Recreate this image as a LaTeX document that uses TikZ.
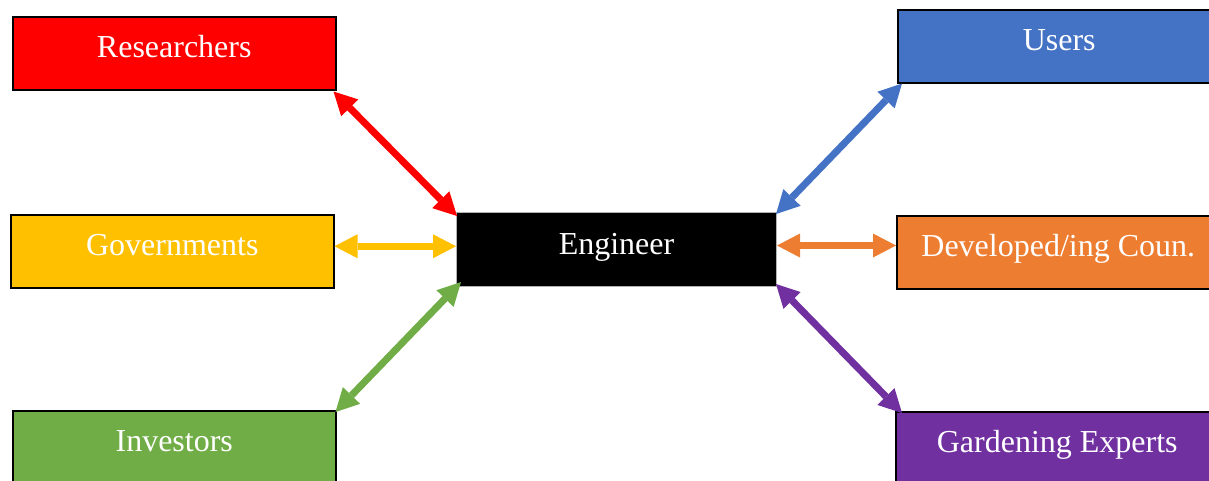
\documentclass[tikz,border=0pt]{standalone}
\usepackage{fontspec}
\setmainfont{Liberation Serif}
\usetikzlibrary{arrows.meta}
\definecolor{cRed}{HTML}{FF0000}
\definecolor{cGold}{HTML}{FFC000}
\definecolor{cGreen}{HTML}{70AD47}
\definecolor{cBlue}{HTML}{4472C4}
\definecolor{cOrange}{HTML}{ED7D31}
\definecolor{cPurple}{HTML}{7030A0}
\begin{document}
\begin{tikzpicture}[x=1pt,y=-1pt,
  party/.style={draw=black, line width=1.5pt, anchor=north west,
    minimum width=323pt, minimum height=73pt, inner sep=0pt,
    text=white, font=\fontsize{32}{38}\selectfont,
    text height=22pt, text depth=13pt},
  link/.style={line width=7pt, {Triangle[length=23pt,width=24pt,line width=0pt]}-{Triangle[length=23pt,width=24pt,line width=0pt]}}]
\useasboundingbox (0,0) rectangle (1209,480);
\clip (0,0) rectangle (1209,480);

% stakeholder boxes
\node[party, fill=cRed]    (res) at (12,16)  {Researchers};
\node[party, fill=cGold]   (gov) at (10,214) {Governments};
\node[party, fill=cGreen]  (inv) at (12,410) {Investors};
\node[party, fill=black, draw=gray!60, line width=1pt, minimum width=320pt, minimum height=74pt]
                           (eng) at (456,212) {Engineer};
\node[party, fill=cBlue]   (usr) at (897,9)   {Users};
\node[party, fill=cOrange] (dev) at (896,215) {Developed/ing Coun.};
\node[party, fill=cPurple] (gar) at (895,411) {Gardening Experts};

% two-way links to the engineer
\draw[link, cRed]    ([shift={(-3pt,-1pt)}]res.south east) -- ([shift={(1pt,-4pt)}]eng.north west);
\draw[link, cGold]   ([yshift=5pt]gov.east) -- ([yshift=5pt]gov.east -| eng.west);
\draw[link, cGreen]  ([shift={(-1pt,-2pt)}]inv.north east) -- ([shift={(5pt,5pt)}]eng.south west);
\draw[link, cBlue]   ([xshift=5pt]usr.south west) -- ([shift={(-1pt,-2pt)}]eng.north east);
\draw[link, cOrange] ([yshift=4pt]eng.east) -- ([yshift=4pt]eng.east -| dev.west);
\draw[link, cPurple] ([shift={(-1pt,3pt)}]eng.south east) -- ([shift={(7pt,-2pt)}]gar.north west);
\end{tikzpicture}
\end{document}
